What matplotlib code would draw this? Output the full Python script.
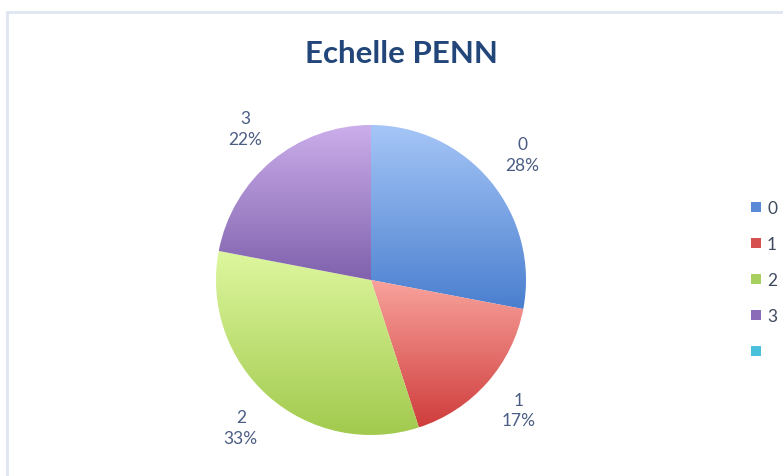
import numpy as np
import matplotlib
matplotlib.use("Agg")
import matplotlib.pyplot as plt
from matplotlib.colors import LinearSegmentedColormap
from matplotlib.patches import Patch, Rectangle

# data
categories = ["0", "1", "2", "3", ""]
shares = [28, 17, 33, 22, 0]
title = "Echelle PENN"

# light (top) / dark (bottom) colours of each slice gradient
top_colors = ["#a6c6f7", "#f9a39d", "#def79f", "#cbaeea", "#7fd8ea"]
bottom_colors = ["#4a7fcf", "#cf3d3c", "#a2ca4e", "#7f61ad", "#3fb5d0"]
legend_colors = ["#5a8ad6", "#d65050", "#a8d060", "#8a6cb8", "#4bc0da"]

plt.rcParams["font.family"] = ["Lato", "DejaVu Sans"]

W, H = 783, 477
fig = plt.figure(figsize=(W / 100, H / 100), dpi=100)
fig.patch.set_facecolor("white")

# pie centre (px) and radius (px)
cx, cy, rad = 371, 281, 155
ax = fig.add_axes([0, 0, 1, 1])
ax.axis("off")

# chart frame (light line, only left and top visible)
fig.patches.append(Rectangle((7 / W, -0.05), 1.0, 1 - 13 / H + 0.05,
                             transform=fig.transFigure, fill=False,
                             edgecolor="#dfe6f1", linewidth=2.0))

nz = [i for i, v in enumerate(shares) if v > 0]
vals = [shares[i] for i in nz]
labs = ["{}\n{}%".format(categories[i], shares[i]) for i in nz]

wedges, texts = ax.pie(vals, labels=labs, startangle=90, counterclock=False,
                       radius=1.0, labeldistance=1.27,
                       textprops=dict(color="#4b5d85", fontsize=12.5,
                                      linespacing=1.35))
for t in texts:
    t.set_ha("center")
    t.set_va("center")

# vertical gradient inside each slice
grad = np.linspace(0, 1, 256).reshape(-1, 1)
for k, w in zip(nz, wedges):
    ext = w.get_path().get_extents()
    cmap = LinearSegmentedColormap.from_list("g", [top_colors[k], bottom_colors[k]])
    w.set_facecolor("none")
    w.set_edgecolor("none")
    im = ax.imshow(grad, cmap=cmap, aspect="auto", origin="upper",
                   extent=[ext.x0, ext.x1, ext.y0, ext.y1], zorder=1,
                   interpolation="bicubic")
    im.set_clip_path(w)
ax.set_xlim(-cx / rad, (W - cx) / rad)
ax.set_ylim(-(H - cy) / rad, cy / rad)

fig.text(401 / W, 1 - 54 / H, title, ha="center", va="center",
         fontsize=22.5, fontweight="bold", color="#22457a")

handles = [Patch(facecolor=c, edgecolor="none") for c in legend_colors]
fig.legend(handles, categories, loc="center left",
           bbox_to_anchor=(735 / W, 1 - 281 / H), frameon=False,
           fontsize=12.5, labelcolor="#404a5e", handlelength=0.6,
           handleheight=0.5, handletextpad=0.35, labelspacing=1.15)

fig.savefig("out.png", dpi=100, facecolor="white")
